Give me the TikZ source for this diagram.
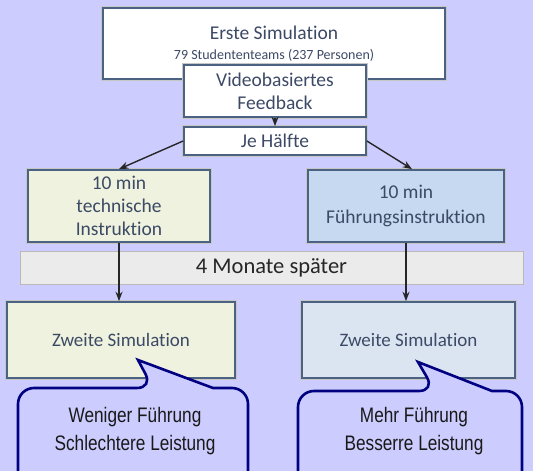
\documentclass[tikz,border=0pt]{standalone}
\usepackage{fontspec}
\setmainfont{Carlito}[Ligatures={NoCommon}]
\newfontfamily\calloutfont[FakeStretch=0.82]{Liberation Sans}
\usetikzlibrary{positioning,arrows.meta}
\definecolor{bglila}{HTML}{CCCCFF}
\definecolor{boxedge}{HTML}{4B6282}
\definecolor{boxtext}{HTML}{3C4A66}
\definecolor{techfill}{HTML}{EEF2DE}
\definecolor{fuehrfill}{HTML}{C6D9F0}
\definecolor{zweitefill}{HTML}{DBE5F1}
\definecolor{calledge}{HTML}{000080}
\tikzset{
  simbox/.style={draw=boxedge, line width=1.8pt, fill=white, text=boxtext,
    inner sep=0pt, align=center, font=\fontsize{19.5}{23}\selectfont,
    preaction={draw=gray!45, line width=4.5pt}},
  flow/.style={->, draw=black!85, line width=1.4pt},
  callshape/.style={draw=calledge, line width=2.6pt, fill=bglila},
  calltext/.style={align=center, text=black!90, inner sep=0pt,
    font=\calloutfont\fontsize{21}{28}\selectfont}
}
\begin{document}
\begin{tikzpicture}[x=1pt,y=-1pt]
  \tikzset{>=Stealth}
  \useasboundingbox (0,0) rectangle (533,471);
  \clip (0,0) rectangle (533,471);
  \fill[bglila] (0,0) rectangle (533,471);

  % boxes
  \node[simbox, minimum width=342, minimum height=71] (erste) at (274,43.5)
    {Erste Simulation\\[-3pt]{\fontsize{14}{16}\selectfont 79 Studententeams (237 Personen)}};
  \node[simbox, minimum width=182, minimum height=52] (video) at (275,91)
    {Videobasiertes\\Feedback};
  \node[simbox, minimum width=182, minimum height=28] (haelfte) at (275,141) {Je Hälfte};
  \node[simbox, fill=techfill, minimum width=182, minimum height=72] (techn) at (119,206)
    {10 min\\technische\\Instruktion};
  \node[simbox, fill=fuehrfill, minimum width=196, minimum height=72, font=\fontsize{19.5}{25}\selectfont] (fuehr) at (406,206)
    {10 min\\Führungsinstruktion};
  \node[draw=gray!55, fill=black!8, line width=0.8pt, minimum width=503, minimum height=33,
    inner sep=0pt, font=\fontsize{22.5}{26}\selectfont, text=black!85] (monate) at (271.5,267.5) {4 Monate später};
  \node[simbox, fill=techfill, minimum width=228, minimum height=76, font=\fontsize{19}{23}\selectfont] (zweiteL) at (121,340)
    {Zweite Simulation};
  \node[simbox, fill=zweitefill, minimum width=213, minimum height=76, font=\fontsize{19}{23}\selectfont] (zweiteR) at (408.5,340)
    {Zweite Simulation};

  % arrows
  \draw[flow] (video) -- (haelfte);
  \draw[flow] (haelfte.west) -- (techn.north);
  \draw[flow] (haelfte.east) -- ([xshift=6pt]fuehr.north);
  \draw[flow] (techn.south) -- (techn.south |- zweiteL.north);
  \draw[flow] (fuehr.south) -- (fuehr.south |- zweiteR.north);

  % callouts
  \draw[callshape] (153,388) -- (138,360) -- (213,388) [rounded corners=16]
    -- (248,388) -- (248,495) -- (18,495) -- (18,388) -- cycle;
  \node[calltext] (weniger) at (135,431) {Weniger Führung\\Schlechtere Leistung};
  \draw[callshape] (435,391) -- (418,362) -- (492,391) [rounded corners=16]
    -- (522,391) -- (522,495) -- (298,495) -- (298,391) -- cycle;
  \node[calltext] (mehr) at (414,431) {Mehr Führung\\Besserre Leistung};
\end{tikzpicture}
\end{document}
